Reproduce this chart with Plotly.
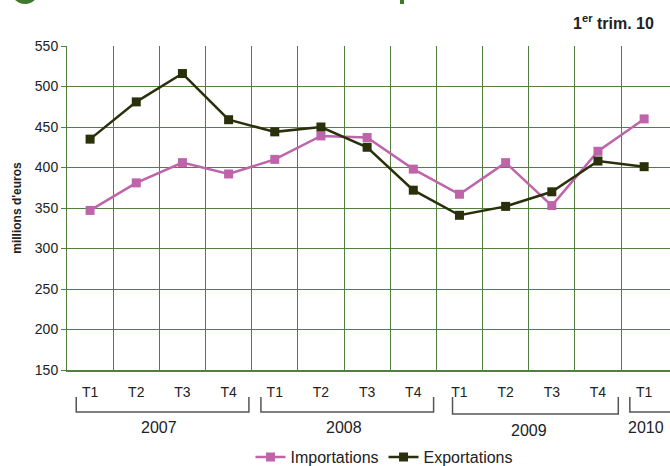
import plotly.graph_objects as go

# ---- data ----
quarters = ["T1", "T2", "T3", "T4", "T1", "T2", "T3", "T4", "T1", "T2", "T3", "T4", "T1"]
years = ["2007", "2008", "2009", "2010"]
year_counts = [4, 4, 4, 1]
importations = [347, 381, 406, 392, 410, 439, 437, 398, 367, 406, 353, 420, 460]
exportations = [435, 481, 516, 459, 444, 450, 425, 372, 341, 352, 370, 408, 401]
y_ticks = [150, 200, 250, 300, 350, 400, 450, 500, 550]

# ---- style ----
FONT = "Liberation Sans, Arial, sans-serif"
GRID = "#527f40"
PINK = "#bf64aa"
DARK = "#2a300a"
W, H = 670, 466
ML, MR, MT, MB = 67, 0, 46, 96
plot_h = H - MT - MB
plot_w = W - ML - MR

def py(p):  # pixel row -> paper y
    return (H - MB - p) / plot_h

def px(p):  # pixel column -> paper x
    return (p - ML) / plot_w

x_idx = list(range(len(quarters)))

fig = go.Figure()
fig.add_trace(go.Scatter(
    x=x_idx, y=importations, name="Importations", mode="lines+markers",
    line=dict(color=PINK, width=2.5),
    marker=dict(symbol="square", size=9, color=PINK), cliponaxis=False))
fig.add_trace(go.Scatter(
    x=x_idx, y=exportations, name="Exportations", mode="lines+markers",
    line=dict(color=DARK, width=2.5),
    marker=dict(symbol="square", size=9, color=DARK), cliponaxis=False))

shapes = []
annotations = []
# year brackets
start = 0
for i, (yr, n) in enumerate(zip(years, year_counts)):
    x0 = start - (0.3 if i < 2 else (0.15 if i == 2 else 0.31))
    x1 = start + n - 1 + (0.44 if i < 3 else 0.9)
    ytop = py(397)
    ybot = py(412 if i != 2 else 414)
    path = f"M {x0},{ytop} L {x0},{ybot} L {x1},{ybot} L {x1},{ytop}"
    shapes.append(dict(type="path", xref="x", yref="paper", path=path,
                       line=dict(color="#555555", width=1.5)))
    annotations.append(dict(x=start + (n - 1) / 2 + (0.05 if n == 1 else 0),
                            y=py(428 if i != 2 else 430), xref="x", yref="paper",
                            yanchor="middle", xanchor="center",
                            text=yr, showarrow=False,
                            font=dict(family=FONT, size=16, color="#222222")))
    start += n

# decorative fragments of the cut-off header
shapes.append(dict(type="circle", xref="paper", yref="paper",
                   x0=px(11), x1=px(39), y0=py(4), y1=py(-24),
                   fillcolor="#3f7a2a", line=dict(width=0)))
shapes.append(dict(type="rect", xref="paper", yref="paper",
                   x0=px(400), x1=px(404), y0=py(4), y1=py(-2),
                   fillcolor="#3f7a2a", line=dict(width=0)))

annotations.append(dict(x=px(656), y=py(22), xref="paper", yref="paper",
                        xanchor="right", yanchor="middle", showarrow=False,
                        text="<b>1<sup>er</sup> trim. 10</b>",
                        font=dict(family=FONT, size=16, color="#222222")))

fig.update_layout(
    width=W, height=H,
    margin=dict(l=ML, r=MR, t=MT, b=MB, autoexpand=False),
    paper_bgcolor="white", plot_bgcolor="white",
    font=dict(family=FONT, size=14, color="#222222"),
    showlegend=True,
    legend=dict(orientation="h", x=px(384), xanchor="center",
                y=py(457), yanchor="middle",
                font=dict(family=FONT, size=16, color="#222222"),
                itemwidth=30, tracegroupgap=0, bgcolor="rgba(0,0,0,0)"),
    shapes=shapes, annotations=annotations,
)
fig.update_xaxes(
    range=[-0.5, 12.56], tickmode="array", tickvals=x_idx, ticktext=quarters,
    showgrid=False, zeroline=False, showline=True, linecolor=GRID, linewidth=1.5,
    ticks="", ticklabelstandoff=8, tickfont=dict(size=14, color="#222222"),
    minor=dict(tickmode="array", tickvals=[i - 0.5 for i in range(len(quarters))],
               showgrid=True, gridcolor=GRID, gridwidth=1, ticks=""),
)
fig.update_yaxes(
    range=[150, 550], tickmode="array", tickvals=y_ticks,
    showgrid=True, gridcolor=GRID, gridwidth=1, zeroline=False,
    showline=True, linecolor=GRID, linewidth=1,
    ticks="outside", ticklen=5, tickcolor=GRID,
    tickfont=dict(size=14, color="#222222"),
    title=dict(text="<b>millions d'euros</b>", standoff=10,
               font=dict(family=FONT, size=12, color="#222222")),
)

fig.write_html("out.html", config={"displayModeBar": False},
               post_script="document.body.style.margin='0';document.body.style.overflow='hidden';")
